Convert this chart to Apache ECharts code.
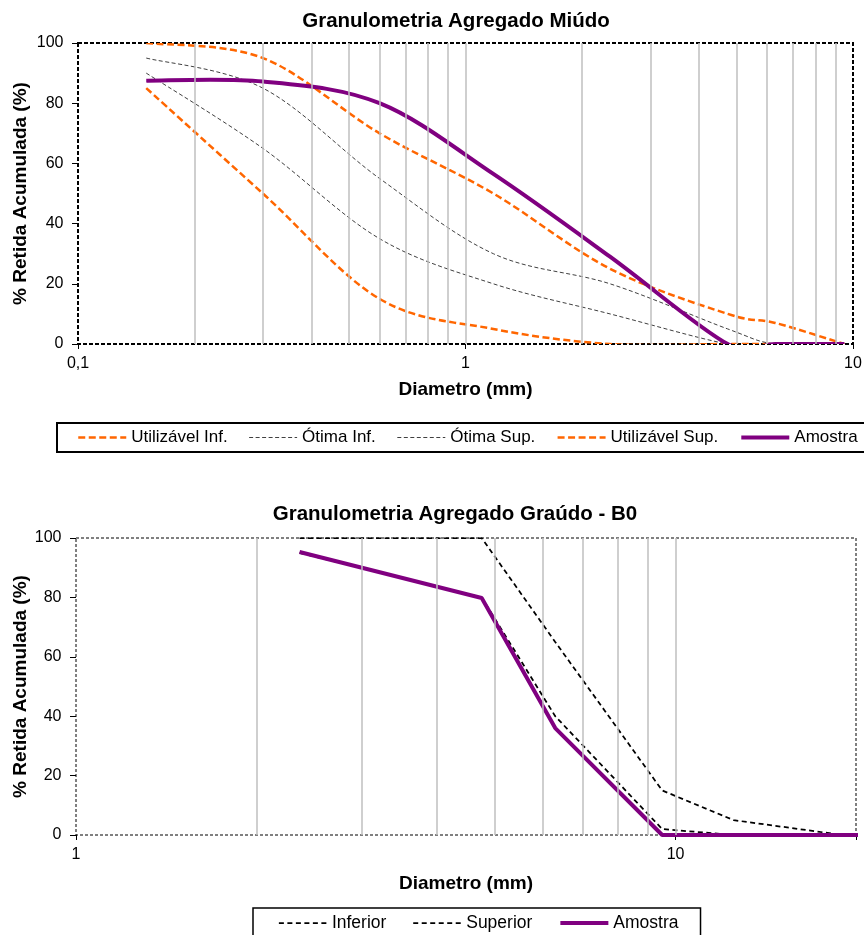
<!DOCTYPE html>
<html><head><meta charset="utf-8">
<script src="https://cdn.jsdelivr.net/npm/echarts@6/dist/echarts.min.js"></script>
<style>html,body{margin:0;padding:0;background:#fff}#c{width:864px;height:935px}</style>
</head><body><div id="c"></div>
<script>
// ---- Data: fine aggregate (top chart) ----
const sievesFine = [0.15, 0.3, 0.6, 1.18, 2.36, 4.75, 6.3, 9.5];
const utilInf   = [85, 50, 15, 5, 0, 0, 0, 0];
const otimaInf  = [90, 65, 35, 20, 10, 0, 0, 0];
const otimaSup  = [95, 85, 55, 30, 20, 5, 0, 0];
const utilSup   = [100, 95, 70, 50, 25, 10, 7, 0];
const amostraFine = [87.5, 87.2, 80, 56.5, 29, 0, 0, 0];
const gridFine = [0.2, 0.3, 0.4, 0.5, 0.6, 0.7, 0.8, 0.9, 1, 2, 3, 4, 5, 6, 7, 8, 9];

// ---- Data: coarse aggregate B0 (bottom chart) ----
const sievesCoarse = [2.36, 4.75, 6.3, 9.5, 12.5, 19, 25];
const inferior  = [95, 80, 40, 2, 0, 0, 0];
const superior  = [100, 100, 65, 15, 5, 0, 0];
const amostraCoarse = [95.3, 79.8, 36, 0, 0, 0, 0];
const gridCoarse = [2, 3, 4, 5, 6, 7, 8, 9, 10];

const titles = ['Granulometria Agregado Miúdo', 'Granulometria Agregado Graúdo - B0'];
const legendFine = ['Utilizável Inf.', 'Ótima Inf.', 'Ótima Sup.', 'Utilizável Sup.', 'Amostra'];
const legendCoarse = ['Inferior', 'Superior', 'Amostra'];
const xName = 'Diametro (mm)';
const yName = '% Retida Acumulada (%)';

const FONT = "'Liberation Sans', Arial, sans-serif";
const zip = (xs, ys) => xs.map((x, i) => [x, ys[i]]);
const fmtLog = v => {
  const r = Math.round(v * 1000) / 1000;
  if (![0.1, 1, 10, 100].includes(r)) return '';
  return String(r).replace('.', ',');
};

function xAxisCfg(gi, min, max, gap) {
  return {
    type: 'log', logBase: 10, gridIndex: gi, min: min, max: max,
    axisLine: { show: false },
    axisTick: { show: true, length: 5, lineStyle: { color: '#000', width: 1 } },
    axisLabel: { fontSize: 16, color: '#000', fontFamily: FONT, margin: 12, formatter: fmtLog },
    splitLine: { show: false }, minorSplitLine: { show: false },
    name: xName, nameLocation: 'middle', nameGap: gap, nameMoveOverlap: false,
    nameTextStyle: { fontSize: 19, fontWeight: 'bold', color: '#000', fontFamily: FONT }
  };
}
function yAxisCfg(gi, gap) {
  return {
    type: 'value', gridIndex: gi, min: 0, max: 100, interval: 20,
    axisLine: { show: false },
    axisTick: { show: true, length: 6, lineStyle: { color: '#000', width: 1 } },
    axisLabel: { fontSize: 16, color: '#000', fontFamily: FONT, margin: 14.5 },
    splitLine: { show: false },
    name: yName, nameLocation: 'middle', nameGap: gap, nameRotate: 90, nameMoveOverlap: false,
    nameTextStyle: { fontSize: 19, fontWeight: 'bold', color: '#000', fontFamily: FONT }
  };
}
function gridLines(idx, values) {
  return {
    type: 'line', xAxisIndex: idx, yAxisIndex: idx, data: [], silent: true,
    markLine: {
      silent: true, symbol: ['none', 'none'], animation: false,
      label: { show: false },
      lineStyle: { color: '#BFBFBF', type: 'solid', width: 1.5 },
      emphasis: { disabled: true },
      data: values.map(v => ({ xAxis: v }))
    }
  };
}
function lineSeries(idx, name, xs, ys, color, width, dash) {
  return {
    type: 'line', name: name, xAxisIndex: idx, yAxisIndex: idx,
    data: zip(xs, ys), symbol: 'none', clip: true,
    lineStyle: { color: color, width: width, type: dash },
    itemStyle: { color: color },
    emphasis: { disabled: true }
  };
}
// Legend-only entry (no data) + smoothed curve (Excel-style Catmull-Rom) drawn with a custom series.
function legendEntry(idx, name, color, width, dash) {
  return {
    type: 'line', name: name, xAxisIndex: idx, yAxisIndex: idx, data: [], symbol: 'none',
    lineStyle: { color: color, width: width, type: dash }, itemStyle: { color: color }
  };
}
function smoothSeries(idx, xs, ys, color, width, dash) {
  return {
    type: 'custom', xAxisIndex: idx, yAxisIndex: idx, clip: true, silent: true,
    data: zip(xs, ys),
    encode: { x: 0, y: 1 },
    renderItem: function (params, api) {
      if (params.dataIndexInside !== 0) return null;
      const n = params.dataInsideLength;
      const P = [];
      for (let i = 0; i < n; i++) P.push(api.coord([api.value(0, i), api.value(1, i)]));
      let d = 'M' + P[0][0] + ' ' + P[0][1];
      for (let i = 0; i < n - 1; i++) {
        const p0 = P[i - 1] || P[i], p1 = P[i], p2 = P[i + 1], p3 = P[i + 2] || P[i + 1];
        const c1x = p1[0] + (p2[0] - p0[0]) / 6, c1y = p1[1] + (p2[1] - p0[1]) / 6;
        const c2x = p2[0] - (p3[0] - p1[0]) / 6, c2y = p2[1] - (p3[1] - p1[1]) / 6;
        d += ' C' + c1x + ' ' + c1y + ' ' + c2x + ' ' + c2y + ' ' + p2[0] + ' ' + p2[1];
      }
      return {
        type: 'path', shape: { pathData: d },
        style: { fill: 'none', stroke: color, lineWidth: width, lineDash: dash === 'solid' ? null : dash, lineJoin: 'round' }
      };
    }
  };
}

const ORANGE = '#FF6600', GRAY = '#404040', PURPLE = '#800080';
const DASH_O = [7, 3.5], DASH_G = [4, 2.5], DASH_K = [5, 3.5];

const option = {
  animation: false,
  backgroundColor: '#fff',
  title: [
    { text: titles[0], left: 456, top: 11, textAlign: 'center', padding: 0,
      textStyle: { fontSize: 20.5, fontWeight: 'bold', color: '#000', fontFamily: FONT } },
    { text: titles[1], left: 455, top: 504, textAlign: 'center', padding: 0,
      textStyle: { fontSize: 20.5, fontWeight: 'bold', color: '#000', fontFamily: FONT } }
  ],
  legend: [
    { data: legendFine, left: 57, top: 423, width: 840, orient: 'horizontal',
      itemWidth: 48, itemHeight: 14, itemGap: 21, padding: [6, 30, 6, 20],
      borderColor: '#000', borderWidth: 2, selectedMode: false,
      itemStyle: { opacity: 0 }, lineStyle: { width: 'inherit' },
      textStyle: { fontSize: 17, color: '#000', fontFamily: FONT } },
    { data: legendCoarse, left: 253, top: 908, width: 600, orient: 'horizontal',
      itemWidth: 48, itemHeight: 14, itemGap: 26, padding: [6, 22, 6, 25],
      borderColor: '#000', borderWidth: 1.5, selectedMode: false,
      itemStyle: { opacity: 0 }, lineStyle: { width: 'inherit' },
      textStyle: { fontSize: 17.5, color: '#000', fontFamily: FONT } }
  ],
  grid: [
    { left: 78, top: 43, width: 775, height: 301, show: true, backgroundColor: 'transparent',
      borderColor: '#000', borderWidth: 2, borderType: [4, 2], outerBoundsMode: 'none' },
    { left: 76, top: 538, width: 780, height: 297, show: true, backgroundColor: 'transparent',
      borderColor: '#000', borderWidth: 1, borderType: [3, 2], outerBoundsMode: 'none' }
  ],
  xAxis: [ xAxisCfg(0, 0.1, 10, 36), xAxisCfg(1, 1, 20, 39) ],
  yAxis: [ yAxisCfg(0, 48), yAxisCfg(1, 46) ],
  series: [
    gridLines(0, gridFine),
    legendEntry(0, legendFine[0], ORANGE, 2.5, DASH_O),
    legendEntry(0, legendFine[1], GRAY, 1, DASH_G),
    legendEntry(0, legendFine[2], GRAY, 1, DASH_G),
    legendEntry(0, legendFine[3], ORANGE, 2.5, DASH_O),
    legendEntry(0, legendFine[4], PURPLE, 4, 'solid'),
    smoothSeries(0, sievesFine, utilInf, ORANGE, 2.5, DASH_O),
    smoothSeries(0, sievesFine, otimaInf, GRAY, 1, DASH_G),
    smoothSeries(0, sievesFine, otimaSup, GRAY, 1, DASH_G),
    smoothSeries(0, sievesFine, utilSup, ORANGE, 2.5, DASH_O),
    smoothSeries(0, sievesFine, amostraFine, PURPLE, 4, 'solid'),
    gridLines(1, gridCoarse),
    lineSeries(1, legendCoarse[0], sievesCoarse, inferior, '#000', 1.75, DASH_K),
    lineSeries(1, legendCoarse[1], sievesCoarse, superior, '#000', 1.75, DASH_K),
    lineSeries(1, legendCoarse[2], sievesCoarse, amostraCoarse, PURPLE, 4, 'solid')
  ]
};
const chart = echarts.init(document.getElementById('c'), null, { renderer: 'canvas' });
chart.setOption(option);
</script>
</body></html>
